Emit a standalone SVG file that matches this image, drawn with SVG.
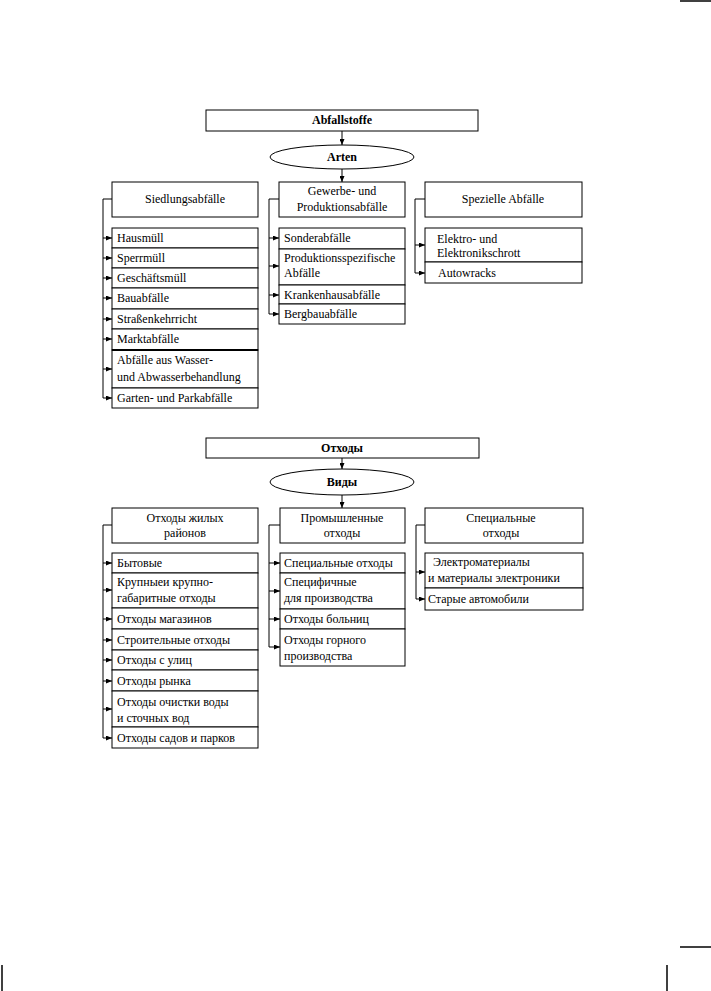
<svg xmlns="http://www.w3.org/2000/svg" width="711" height="991" viewBox="0 0 711 991">
<style>
rect, ellipse { fill: #fff; stroke: #000; stroke-width: 1; }
.c { fill: none; stroke: #000; stroke-width: 1; }
.a { fill: none; stroke: #000; stroke-width: 1; marker-end: url(#ah); }
text { font-family: 'Liberation Serif', 'DejaVu Serif', 'Noto Serif', serif; font-size: 12px; fill: #000; }
.m { text-anchor: middle; }
.b { font-weight: bold; }
.pg { stroke: #000; stroke-width: 1.5; }
</style>
<defs>
<marker id="ah" markerUnits="userSpaceOnUse" markerWidth="6" markerHeight="5" refX="6" refY="2.5" orient="auto">
<path d="M0,0 L6,2.5 L0,5 z" fill="#000"/>
</marker>
</defs>
<rect x="0" y="0" width="711" height="991" style="stroke:none;fill:#fff"/>

<g id="page-marks">
<line class="pg" x1="680" y1="1" x2="711" y2="1"/>
<line class="pg" x1="680" y1="947" x2="711" y2="947"/>
<line class="pg" x1="667" y1="965" x2="667" y2="991"/>
<line class="pg" x1="2" y1="965" x2="2" y2="991"/>
</g>

<g id="connectors">
<line class="a" x1="342" y1="131" x2="342" y2="145"/>
<line class="a" x1="342" y1="169" x2="342" y2="182"/>
<path class="c" d="M112,199 H103 V398"/>
<line class="a" x1="103" y1="238" x2="112" y2="238"/>
<line class="a" x1="103" y1="258" x2="112" y2="258"/>
<line class="a" x1="103" y1="278" x2="112" y2="278"/>
<line class="a" x1="103" y1="298" x2="112" y2="298"/>
<line class="a" x1="103" y1="319" x2="112" y2="319"/>
<line class="a" x1="103" y1="339" x2="112" y2="339"/>
<line class="a" x1="103" y1="369" x2="112" y2="369"/>
<line class="a" x1="103" y1="398" x2="112" y2="398"/>
<path class="c" d="M279,199 H269 V314"/>
<line class="a" x1="269" y1="238" x2="279" y2="238"/>
<line class="a" x1="269" y1="266" x2="279" y2="266"/>
<line class="a" x1="269" y1="295" x2="279" y2="295"/>
<line class="a" x1="269" y1="314" x2="279" y2="314"/>
<path class="c" d="M425,199 H415 V273"/>
<line class="a" x1="415" y1="245" x2="425" y2="245"/>
<line class="a" x1="415" y1="273" x2="425" y2="273"/>

<line class="a" x1="342" y1="458" x2="342" y2="469"/>
<line class="a" x1="342" y1="495" x2="342" y2="508"/>
<path class="c" d="M112,525 H103 V738"/>
<line class="a" x1="103" y1="563" x2="112" y2="563"/>
<line class="a" x1="103" y1="590" x2="112" y2="590"/>
<line class="a" x1="103" y1="619" x2="112" y2="619"/>
<line class="a" x1="103" y1="640" x2="112" y2="640"/>
<line class="a" x1="103" y1="660" x2="112" y2="660"/>
<line class="a" x1="103" y1="681" x2="112" y2="681"/>
<line class="a" x1="103" y1="709" x2="112" y2="709"/>
<line class="a" x1="103" y1="738" x2="112" y2="738"/>
<path class="c" d="M280,525 H269 V647"/>
<line class="a" x1="269" y1="563" x2="280" y2="563"/>
<line class="a" x1="269" y1="591" x2="280" y2="591"/>
<line class="a" x1="269" y1="619" x2="280" y2="619"/>
<line class="a" x1="269" y1="647" x2="280" y2="647"/>
<path class="c" d="M425,525 H416 V599"/>
<line class="a" x1="416" y1="572" x2="425" y2="572"/>
<line class="a" x1="416" y1="599" x2="425" y2="599"/>
</g>

<g font-family="Liberation Serif, DejaVu Serif, serif">
<!-- German chart -->
<g id="abfallstoffe"><rect x="206" y="110" width="272" height="21"/><text class="m b" x="342" y="124">Abfallstoffe</text></g>
<g id="arten"><ellipse cx="342" cy="157" rx="72" ry="12"/><text class="m b" x="342" y="161">Arten</text></g>
<g id="siedlungsabfaelle"><rect x="112" y="182" width="146" height="35"/><text class="m" x="185" y="203">Siedlungsabfälle</text></g>
<g id="gewerbe"><rect x="279" y="182" width="126" height="35"/><text class="m" x="342" y="195">Gewerbe- und</text><text class="m" x="342" y="211">Produktionsabfälle</text></g>
<g id="spezielle"><rect x="425" y="182" width="157" height="35"/><text class="m" x="503" y="203">Spezielle Abfälle</text></g>

<g id="hausmuell"><rect x="112" y="228" width="146" height="20"/><text x="117" y="242">Hausmüll</text></g>
<g id="sperrmuell"><rect x="112" y="248" width="146" height="20"/><text x="117" y="262">Sperrmüll</text></g>
<g id="geschaeftsmuell"><rect x="112" y="268" width="146" height="20"/><text x="117" y="282">Geschäftsmüll</text></g>
<g id="bauabfaelle"><rect x="112" y="288" width="146" height="21"/><text x="117" y="302">Bauabfälle</text></g>
<g id="strassenkehrricht"><rect x="112" y="309" width="146" height="20"/><text x="117" y="323">Straßenkehrricht</text></g>
<g id="marktabfaelle"><rect x="112" y="329" width="146" height="21"/><text x="117" y="343">Marktabfälle</text></g>
<g id="abwasser"><rect x="112" y="350" width="146" height="38"/><line x1="112" y1="350" x2="258" y2="350" stroke="#000" stroke-width="2"/><text x="117" y="364">Abfälle aus Wasser-</text><text x="117" y="381">und Abwasserbehandlung</text></g>
<g id="gartenabfaelle"><rect x="112" y="388" width="146" height="20"/><text x="117" y="402">Garten- und Parkabfälle</text></g>

<g id="sonderabfaelle"><rect x="279" y="228" width="126" height="21"/><text x="284" y="242">Sonderabfälle</text></g>
<g id="produktionsspezifische"><rect x="279" y="249" width="126" height="36"/><text x="284" y="262">Produktionsspezifische</text><text x="284" y="277">Abfälle</text></g>
<g id="krankenhausabfaelle"><rect x="279" y="285" width="126" height="19"/><text x="284" y="299">Krankenhausabfälle</text></g>
<g id="bergbauabfaelle"><rect x="279" y="304" width="126" height="20"/><text x="284" y="318">Bergbauabfälle</text></g>

<g id="elektroschrott"><rect x="425" y="228" width="157" height="34"/><text x="437" y="243">Elektro- und</text><text x="437" y="257">Elektronikschrott</text></g>
<g id="autowracks"><rect x="425" y="262" width="157" height="21"/><text x="438" y="277">Autowracks</text></g>

<!-- Russian chart -->
<g id="otkhody"><rect x="206" y="438" width="273" height="20"/><text class="m b" x="342" y="452">Отходы</text></g>
<g id="vidy"><ellipse cx="342" cy="482" rx="72" ry="13"/><text class="m b" x="342" y="486">Виды</text></g>
<g id="zhilye"><rect x="112" y="508" width="146" height="35"/><text class="m" x="185" y="522">Отходы жилых</text><text class="m" x="185" y="537">районов</text></g>
<g id="promyshlennye"><rect x="280" y="508" width="125" height="35"/><text class="m" x="342" y="522">Промышленные</text><text class="m" x="342" y="537">отходы</text></g>
<g id="specialnye"><rect x="425" y="508" width="158" height="35"/><text class="m" x="501" y="522">Специальные</text><text class="m" x="501" y="537">отходы</text></g>

<g id="bytovye"><rect x="112" y="553" width="146" height="20"/><text x="117" y="567">Бытовые</text></g>
<g id="krupnye"><rect x="112" y="573" width="146" height="35"/><text x="117" y="586">Крупныеи крупно-</text><text x="117" y="602">габаритные отходы</text></g>
<g id="magaziny"><rect x="112" y="608" width="146" height="21"/><text x="117" y="623">Отходы магазинов</text></g>
<g id="stroitelnye"><rect x="112" y="629" width="146" height="21"/><text x="117" y="644">Строительные отходы</text></g>
<g id="ulicy"><rect x="112" y="650" width="146" height="20"/><text x="117" y="664">Отходы с улиц</text></g>
<g id="rynok"><rect x="112" y="670" width="146" height="21"/><text x="117" y="685">Отходы рынка</text></g>
<g id="ochistka"><rect x="112" y="691" width="146" height="36"/><text x="117" y="706">Отходы очистки воды</text><text x="117" y="722">и сточных вод</text></g>
<g id="sady"><rect x="112" y="727" width="146" height="21"/><text x="117" y="742">Отходы садов и парков</text></g>

<g id="specialnye-otkhody"><rect x="280" y="553" width="125" height="20"/><text x="284" y="567">Специальные отходы</text></g>
<g id="specifichnye"><rect x="280" y="573" width="125" height="36"/><text x="284" y="586">Специфичные</text><text x="284" y="602">для производства</text></g>
<g id="bolnicy"><rect x="280" y="609" width="125" height="20"/><text x="284" y="623">Отходы больниц</text></g>
<g id="gornoe"><rect x="280" y="629" width="125" height="37"/><text x="284" y="644">Отходы горного</text><text x="284" y="660">производства</text></g>

<g id="elektromaterialy"><rect x="425" y="553" width="158" height="35"/><text x="433" y="566">Электроматериалы</text><text x="428" y="582">и материалы электроники</text></g>
<g id="avtomobili"><rect x="425" y="588" width="158" height="22"/><text x="428" y="603">Старые автомобили</text></g>
</g>
</svg>
